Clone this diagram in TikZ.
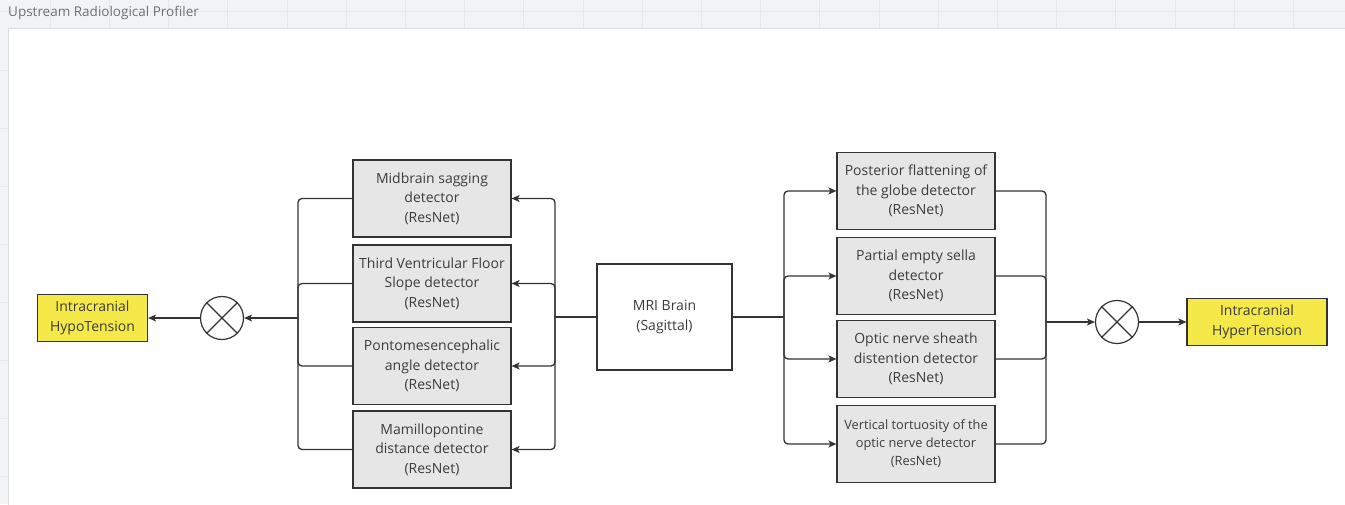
\documentclass[tikz,border=0pt]{standalone}
\usepackage{fontspec}
\setmainfont{Open Sans}
\usetikzlibrary{arrows.meta}
\definecolor{canvas}{HTML}{F2F3F4}
\definecolor{gridline}{HTML}{E6E7E8}
\definecolor{panelborder}{HTML}{DCDDDE}
\definecolor{ink}{HTML}{333333}
\definecolor{txt}{HTML}{3C3C3C}
\definecolor{boxgray}{HTML}{E6E6E6}
\definecolor{outyellow}{HTML}{F5E94A}
\definecolor{titlegray}{HTML}{707070}
\tikzset{
  detector/.style={draw=ink, line width=1.2pt, fill=boxgray, minimum width=158pt,
    minimum height=77pt, inner sep=0pt, align=center, text=txt,
    font=\fontsize{14}{19.5}\selectfont},
  outcome/.style={draw=ink, line width=1.2pt, fill=outyellow, minimum height=47pt,
    inner sep=0pt, align=center, text=txt, font=\fontsize{14}{19.5}\selectfont},
  source/.style={draw=ink, line width=1.2pt, fill=white, minimum width=135pt,
    minimum height=106pt, inner sep=0pt, align=center, text=txt,
    font=\fontsize{14}{19.5}\selectfont},
  combiner/.style={draw=ink, line width=1.2pt, fill=white, circle, minimum size=43pt, inner sep=0pt},
  wire/.style={draw=ink, line width=1.3pt, rounded corners=4pt},
  arr/.style={wire, -{Stealth[length=8pt,width=7pt,inset=2pt]}},
}
\begin{document}
\begin{tikzpicture}[x=1pt,y=-1pt]
% canvas and panel
\fill[canvas] (0,0) rectangle (1345,504);
\useasboundingbox (0,0) rectangle (1345,504);
\foreach \gx in {50.3,109.5,...,1345} \draw[gridline, line width=1pt] (\gx,0) -- (\gx,28);
\draw[gridline, line width=1pt] (0,11) -- (1345,11);
\foreach \gy in {70,128,...,504} \draw[gridline, line width=1pt] (0,\gy) -- (8,\gy);
\fill[white] (8,28) rectangle (1346,505);
\draw[panelborder, line width=1pt] (8,505) -- (8,28) -- (1346,28);
\node[anchor=west, text=titlegray, font=\fontsize{13.5}{15}\selectfont, inner sep=0pt] (title) at (8,13) {Upstream Radiological Profiler};

% source image
\node[source] (mri) at (664.5,317) {MRI Brain\\(Sagittal)};

% hypotension detectors
\node[detector] (l1) at (432,198.5) {Midbrain sagging\\detector\\(ResNet)};
\node[detector] (l2) at (432,283.5) {Third Ventricular Floor\\Slope detector\\(ResNet)};
\node[detector] (l3) at (432,366) {Pontomesencephalic\\angle detector\\(ResNet)};
\node[detector] (l4) at (432,449.5) {Mamillopontine\\distance detector\\(ResNet)};

% hypertension detectors
\node[detector] (r1) at (916,191) {Posterior flattening of\\the globe detector\\(ResNet)};
\node[detector] (r2) at (916,276) {Partial empty sella\\detector\\(ResNet)};
\node[detector] (r3) at (916,359) {Optic nerve sheath\\distention detector\\(ResNet)};
\node[detector, font=\fontsize{12.8}{18}\selectfont] (r4) at (916,444) {Vertical tortuosity of the\\optic nerve detector\\(ResNet)};

% combiners and outcomes
\node[combiner] (cl) at (222,318) {};
\draw[ink, line width=1.2pt] (cl.45) -- (cl.225) (cl.135) -- (cl.315);
\node[combiner] (cr) at (1117,322) {};
\draw[ink, line width=1.2pt] (cr.45) -- (cr.225) (cr.135) -- (cr.315);
\node[outcome, minimum width=110pt] (hypo) at (92.5,318) {Intracranial\\HypoTension};
\node[outcome, minimum width=140pt] (hyper) at (1257,322) {Intracranial\\HyperTension};

% junction points of the buses
\coordinate (lin) at (555,317);
\coordinate (lout) at (298,318);
\coordinate (rin) at (784,317);
\coordinate (rout) at (1046,322);

% fan-out to the left detectors
\draw[wire] (mri.west) -- (lin);
\foreach \n in {l1,l2,l3,l4} \draw[arr] (lin) |- (\n.east);
% fan-in from the left detectors
\foreach \n in {l1,l2,l3,l4} \draw[wire] (\n.west) -| (lout);
\draw[arr] (lout) -- (cl.east);
\draw[arr] (cl.west) -- (hypo.east);

% fan-out to the right detectors
\draw[wire] (mri.east) -- (rin);
\foreach \n in {r1,r2,r3,r4} \draw[arr] (rin) |- (\n.west);
% fan-in from the right detectors
\foreach \n in {r1,r2,r3,r4} \draw[wire] (\n.east) -| (rout);
\draw[arr] (rout) -- (cr.west);
\draw[arr] (cr.east) -- (hyper.west);
\end{tikzpicture}
\end{document}
